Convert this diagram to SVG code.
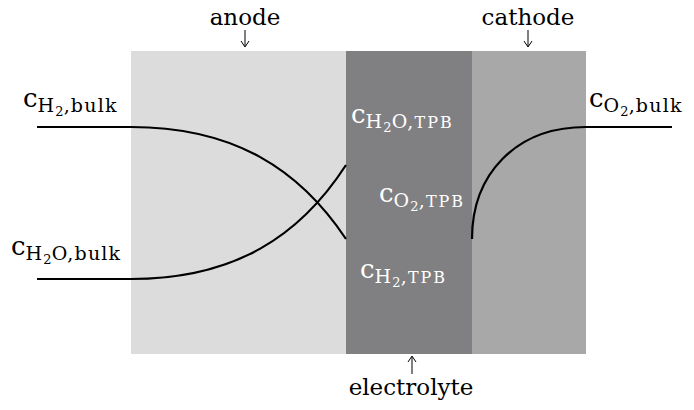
<svg xmlns="http://www.w3.org/2000/svg" width="694" height="410" viewBox="0 0 694 410">
<defs>
<style>
text{font-family:"DejaVu Serif",serif}
.c{font-size:26px}
.s{font-size:19px;letter-spacing:1.2px}
.n{font-size:13px}
.sc{font-size:16px;letter-spacing:2px}
.lbl{font-size:23px;text-anchor:middle}
.curve{fill:none;stroke:#000;stroke-width:2.2}
.ptr{fill:none;stroke:#000;stroke-width:1}
</style>
</defs>
<g id="anode"><rect x="131" y="51" width="215" height="303" fill="#dcdcdc"/></g>
<g id="electrolyte"><rect x="346" y="51" width="126" height="303" fill="#808083"/></g>
<g id="cathode"><rect x="472" y="51" width="114" height="303" fill="#a8a8a8"/></g>
<g id="connectors">
<path class="curve" d="M37,127 H131 C235,127 300,170 346,239"/>
<path class="curve" d="M37,279 H131 C235,279 300,236 346,165"/>
<path class="curve" d="M472,239 C472,175 515,127 586,127 H672"/>
<path class="ptr" d="M245,30 V46 M241,41 L245,47 L249,41"/>
<path class="ptr" d="M528,30 V46 M524,41 L528,47 L532,41"/>
<path class="ptr" d="M412,374 V357 M408,362 L412,356 L416,362"/>
</g>
<g id="labels">
<text class="lbl" x="245" y="25">anode</text>
<text class="lbl" x="528" y="25">cathode</text>
<text class="lbl" x="411" y="395">electrolyte</text>
</g>
<g id="cH2bulk"><text x="23" y="107"><tspan class="c">c</tspan><tspan class="s" dy="5">H</tspan><tspan class="n" dy="4">2</tspan><tspan class="s" dy="-4">,bulk</tspan></text></g>
<g id="cH2Obulk"><text x="11" y="255"><tspan class="c">c</tspan><tspan class="s" dy="5">H</tspan><tspan class="n" dy="4">2</tspan><tspan class="s" dy="-4">O,bulk</tspan></text></g>
<g id="cO2bulk"><text x="589" y="107"><tspan class="c">c</tspan><tspan class="s" dy="5">O</tspan><tspan class="n" dy="4">2</tspan><tspan class="s" dy="-4">,bulk</tspan></text></g>
<g id="cH2OTPB" fill="#fff"><text x="351" y="123"><tspan class="c">c</tspan><tspan class="s" dy="5">H</tspan><tspan class="n" dy="4">2</tspan><tspan class="s" dy="-4">O,</tspan><tspan class="sc">TPB</tspan></text></g>
<g id="cO2TPB" fill="#fff"><text x="379" y="202"><tspan class="c">c</tspan><tspan class="s" dy="5">O</tspan><tspan class="n" dy="4">2</tspan><tspan class="s" dy="-4">,</tspan><tspan class="sc">TPB</tspan></text></g>
<g id="cH2TPB" fill="#fff"><text x="360" y="278"><tspan class="c">c</tspan><tspan class="s" dy="5">H</tspan><tspan class="n" dy="4">2</tspan><tspan class="s" dy="-4">,</tspan><tspan class="sc">TPB</tspan></text></g>
</svg>
